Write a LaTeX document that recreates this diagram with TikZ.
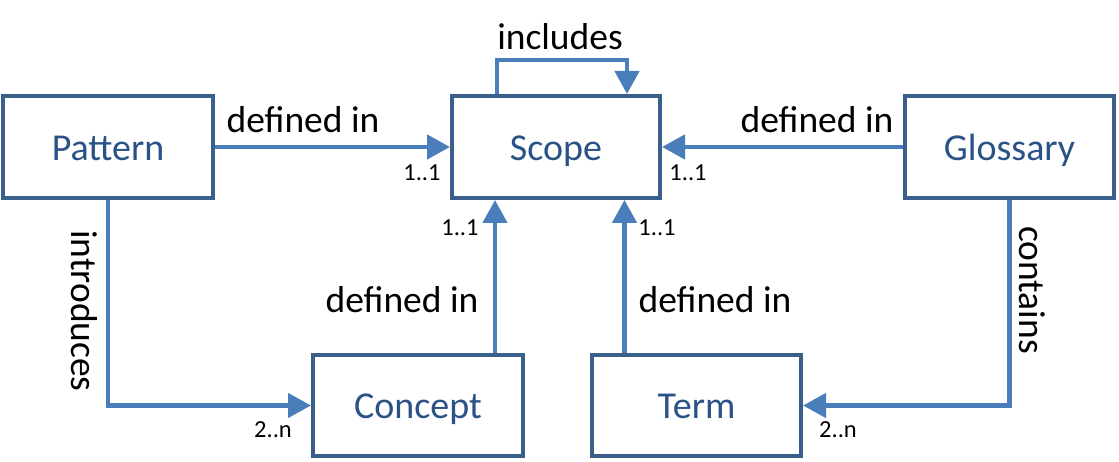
\documentclass[tikz,border=0pt]{standalone}
\usepackage{fontspec}
\setmainfont{Carlito}
\usetikzlibrary{arrows.meta}
\definecolor{boxline}{HTML}{3A5F8B}
\definecolor{boxtext}{HTML}{2A5287}
\definecolor{arrline}{HTML}{4A7EBB}
\begin{document}
\begin{tikzpicture}[x=1pt,y=1pt,
  entity/.style={draw=boxline, line width=4pt, fill=white, minimum width=#1,
    minimum height=102pt, inner sep=0pt, text=boxtext, text height=27pt, text depth=0pt,
    font=\fontsize{38}{42}\selectfont},
  entity/.default=210pt,
  arr/.style={draw=arrline, line width=4.5pt, -{Triangle[length=23pt,width=24pt]}},
  lbl/.style={inner sep=0pt, font=\fontsize{37.5}{42}\selectfont},
  mult/.style={inner sep=0pt, font=\fontsize{24.5}{28}\selectfont}]
\useasboundingbox (0,0) rectangle (1119,462);
\node[entity=210pt] (pat) at (108,315) {Pattern};
\node[entity=208pt] (scope) at (556,315) {Scope};
\node[entity=209pt] (glos) at (1009.5,315) {Glossary};
\node[entity=210pt, minimum height=101pt] (con) at (418,56.5) {Concept};
\node[entity=209pt, minimum height=101pt] (term) at (696.5,56.5) {Term};
\draw[arr] (pat) -- (scope);
\draw[arr] (glos) -- (scope);
\draw[arr] ([xshift=-59pt]scope.north) -- ++(0,34) -| ([xshift=71pt]scope.north);
\draw[arr] (pat.south) |- (con.west);
\draw[arr] ([xshift=77pt]con.north) -- ([xshift=77pt]con.north |- scope.south);
\draw[arr] ([xshift=-72pt]term.north) -- ([xshift=-72pt]term.north |- scope.south);
\draw[arr] (glos.south) |- (term.east);
\node[lbl] (l1) at (560,425) {includes};
\node[lbl] (l2) at (303,342) {defined in};
\node[lbl] (l3) at (817,342) {defined in};
\node[lbl] (l4) at (402,162) {defined in};
\node[lbl] (l5) at (715,162) {defined in};
\node[lbl, rotate=-90] (l6) at (84,151) {introduces};
\node[lbl, rotate=-90] (l7) at (1032,172) {contains};
\node[mult] (m1) at (422,289) {1..1};
\node[mult] (m2) at (688,289) {1..1};
\node[mult] (m3) at (460,234) {1..1};
\node[mult] (m4) at (657,234) {1..1};
\node[mult] (m5) at (273,32) {2..n};
\node[mult] (m6) at (838,32) {2..n};
\end{tikzpicture}
\end{document}
